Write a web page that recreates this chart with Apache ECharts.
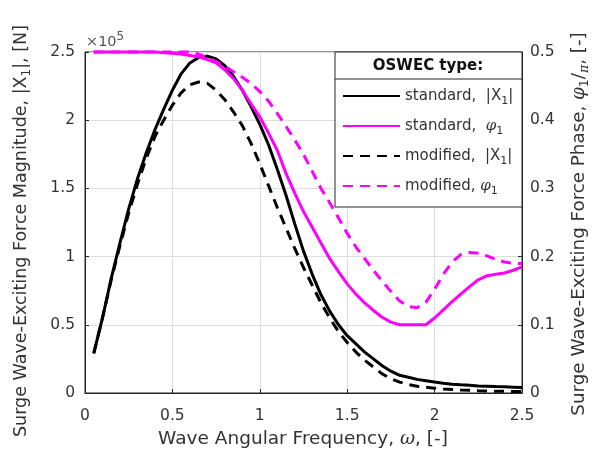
<!DOCTYPE html>
<html>
<head>
<meta charset="utf-8">
<script src="https://cdn.jsdelivr.net/npm/echarts@6/dist/echarts.min.js"></script>
<style>
  html, body { margin: 0; padding: 0; background: #fff; }
  #chart { width: 595px; height: 450px; }
</style>
</head>
<body>
<div id="chart"></div>
<script>
// Wave angular frequency samples, ω [-]
const omega = [0.05, 0.10, 0.15, 0.20, 0.25, 0.30, 0.35, 0.40, 0.45, 0.50,
  0.55, 0.60, 0.65, 0.70, 0.75, 0.80, 0.85, 0.90, 0.95, 1.00,
  1.05, 1.10, 1.15, 1.20, 1.25, 1.30, 1.35, 1.40, 1.45, 1.50,
  1.55, 1.60, 1.65, 1.70, 1.75, 1.80, 1.85, 1.90, 1.95, 2.00,
  2.05, 2.10, 2.15, 2.20, 2.25, 2.30, 2.35, 2.40, 2.45, 2.50];

// Force magnitude |X1| in units of 1e5 N
const magStandard = [0.29, 0.55, 0.84, 1.10, 1.35, 1.57, 1.76, 1.93, 2.08, 2.22,
  2.34, 2.42, 2.46, 2.47, 2.45, 2.40, 2.32, 2.22, 2.10, 1.97,
  1.82, 1.64, 1.45, 1.24, 1.04, 0.87, 0.72, 0.60, 0.50, 0.42,
  0.36, 0.30, 0.25, 0.20, 0.16, 0.13, 0.115, 0.10, 0.09, 0.08,
  0.072, 0.065, 0.06, 0.056, 0.052, 0.05, 0.047, 0.045, 0.043, 0.04];

const magModified = [0.29, 0.55, 0.83, 1.08, 1.32, 1.53, 1.72, 1.88, 2.00, 2.11,
  2.20, 2.26, 2.28, 2.27, 2.22, 2.15, 2.06, 1.96, 1.83, 1.68,
  1.52, 1.36, 1.21, 1.06, 0.92, 0.79, 0.66, 0.55, 0.45, 0.37,
  0.30, 0.24, 0.19, 0.14, 0.105, 0.08, 0.062, 0.05, 0.042, 0.035,
  0.03, 0.026, 0.022, 0.02, 0.017, 0.015, 0.013, 0.012, 0.011, 0.01];

// Force phase φ1/π [-]
const phaseStandard = [0.5, 0.5, 0.5, 0.5, 0.5, 0.5, 0.5, 0.5, 0.499, 0.498,
  0.497, 0.495, 0.493, 0.489, 0.484, 0.474, 0.461, 0.444, 0.424, 0.405,
  0.381, 0.356, 0.322, 0.293, 0.266, 0.243, 0.22, 0.197, 0.178, 0.16,
  0.145, 0.132, 0.121, 0.111, 0.104, 0.10, 0.10, 0.10, 0.10, 0.11,
  0.122, 0.134, 0.145, 0.156, 0.166, 0.172, 0.174, 0.176, 0.18, 0.185];

const phaseModified = [0.5, 0.5, 0.5, 0.5, 0.5, 0.5, 0.5, 0.5, 0.5, 0.5,
  0.5, 0.5, 0.497, 0.492, 0.486, 0.479, 0.471, 0.463, 0.454, 0.442,
  0.428, 0.410, 0.391, 0.371, 0.35, 0.325, 0.30, 0.279, 0.257, 0.234,
  0.214, 0.197, 0.18, 0.164, 0.149, 0.135, 0.127, 0.125, 0.133, 0.152,
  0.174, 0.192, 0.203, 0.206, 0.205, 0.201, 0.196, 0.192, 0.19, 0.19];

const xTicks = ['0', '0.5', '1', '1.5', '2', '2.5'];
const seriesNames = ['standard, |X1|', 'standard, φ1', 'modified, |X1|', 'modified, φ1'];
const legendLabels = {
  'standard, |X1|': 'standard,  |X{sub|1}|',
  'standard, φ1': 'standard,  {phi|φ}{sub|1}',
  'modified, |X1|': 'modified,  |X{sub|1}|',
  'modified, φ1': 'modified, {phi|φ}{sub|1}'
};

const FONT = '"DejaVu Sans", "Liberation Sans", Arial, sans-serif';
const GREEK = '"DejaVu Serif", serif';
const TXT = '#333333';
const GRID = { left: 85, right: 73, top: 52, bottom: 57 };

function pairs(xs, ys) { return xs.map((x, i) => [x, ys[i]]); }

const legendRich = {
  sub: { fontSize: 11, fontFamily: FONT, color: TXT, lineHeight: 10, verticalAlign: 'bottom' },
  phi: { fontSize: 15, fontFamily: GREEK, fontStyle: 'italic', color: TXT, lineHeight: 22 }
};

const chart = echarts.init(document.getElementById('chart'), null, { renderer: 'canvas' });

const option = {
  animation: false,
  backgroundColor: '#fff',
  grid: { left: GRID.left, right: GRID.right, top: GRID.top, bottom: GRID.bottom,
          show: true, borderColor: '#262626', borderWidth: 1, backgroundColor: 'transparent' },
  xAxis: {
    type: 'value', min: 0, max: 2.5, interval: 0.5,
    axisLine: { show: true, lineStyle: { color: '#262626', width: 1 } },
    axisTick: { show: true, inside: true, length: 4, lineStyle: { color: '#262626' } },
    axisLabel: { color: TXT, fontSize: 15.5, fontFamily: FONT, margin: 15,
                 formatter: (v) => xTicks[Math.round(v / 0.5)] },
    splitLine: { show: true, lineStyle: { color: '#dedede', width: 1 } }
  },
  yAxis: [{
    type: 'value', min: 0, max: 2.5, interval: 0.5, position: 'left',
    axisLine: { show: true, lineStyle: { color: '#262626', width: 1 } },
    axisTick: { show: true, inside: true, length: 4, lineStyle: { color: '#262626' } },
    axisLabel: { color: TXT, fontSize: 15.5, fontFamily: FONT, margin: 10,
                 formatter: (v) => String(Math.round(v * 10) / 10) },
    splitLine: { show: true, lineStyle: { color: '#dedede', width: 1 } }
  }, {
    type: 'value', min: 0, max: 0.5, interval: 0.1, position: 'right',
    axisLine: { show: true, lineStyle: { color: '#262626', width: 1 } },
    axisTick: { show: true, inside: true, length: 4, lineStyle: { color: '#262626' } },
    axisLabel: { color: TXT, fontSize: 15.5, fontFamily: FONT, margin: 8,
                 formatter: (v) => String(Math.round(v * 10) / 10) },
    splitLine: { show: false }
  }],
  legend: {
    show: true, orient: 'vertical', left: 342, top: 85, z: 20, padding: 0,
    itemWidth: 57, itemHeight: 12, itemGap: 8,
    itemStyle: { opacity: 0 },
    data: seriesNames,
    formatter: (name) => legendLabels[name],
    textStyle: { color: TXT, fontSize: 15, fontFamily: FONT, lineHeight: 22, rich: legendRich }
  },
  series: [
    { name: seriesNames[0], type: 'line', yAxisIndex: 0, data: pairs(omega, magStandard),
      symbol: 'none', clip: false, lineStyle: { color: '#000', width: 3, type: 'solid' }, itemStyle: { color: '#000' }, z: 3 },
    { name: seriesNames[1], type: 'line', yAxisIndex: 1, data: pairs(omega, phaseStandard),
      symbol: 'none', clip: false, lineStyle: { color: '#ff00ff', width: 3, type: 'solid' }, itemStyle: { color: '#ff00ff' }, z: 4 },
    { name: seriesNames[2], type: 'line', yAxisIndex: 0, data: pairs(omega, magModified),
      symbol: 'none', clip: false, lineStyle: { color: '#000', width: 3, type: [10, 7] }, itemStyle: { color: '#000' }, z: 3 },
    { name: seriesNames[3], type: 'line', yAxisIndex: 1, data: pairs(omega, phaseModified),
      symbol: 'none', clip: false, lineStyle: { color: '#ff00ff', width: 3, type: [10, 7] }, itemStyle: { color: '#ff00ff' }, z: 4 }
  ],
  graphic: [
    // legend frame with its title row
    { type: 'rect', z: 10, shape: { x: 335, y: 52, width: 187, height: 155 },
      style: { fill: '#fff', stroke: '#262626', lineWidth: 1 } },
    { type: 'line', z: 11, shape: { x1: 335, y1: 79, x2: 522, y2: 79 },
      style: { stroke: '#262626', lineWidth: 1 } },
    { type: 'text', z: 11, x: 428, y: 66,
      style: { text: 'OSWEC type:', font: 'bold 15px ' + FONT, fill: '#111', align: 'center', verticalAlign: 'middle' } },
    // exponent of the left axis
    { type: 'text', z: 11, x: 86, y: 42,
      style: { text: '×10{sup|5}', fill: '#555', font: '14.5px ' + FONT, verticalAlign: 'middle',
               lineHeight: 22, rich: { sup: { fontSize: 12, fontFamily: FONT, fill: '#555', lineHeight: 10, verticalAlign: 'top' } } } },
    // axis titles
    { type: 'text', z: 11, x: 21, y: 231, rotation: Math.PI / 2,
      style: { text: 'Surge Wave-Exciting Force Magnitude, |X{sub|1}|, [N]', fill: TXT, font: '17.5px ' + FONT,
               align: 'center', verticalAlign: 'middle', lineHeight: 24,
               rich: { sub: { fontSize: 12, fontFamily: FONT, fill: TXT, lineHeight: 10, verticalAlign: 'bottom' } } } },
    { type: 'text', z: 11, x: 579, y: 224, rotation: Math.PI / 2,
      style: { text: 'Surge Wave-Exciting Force Phase, {phi|φ}{sub|1}/{pi|π}, [-]', fill: TXT, font: '18.3px ' + FONT,
               align: 'center', verticalAlign: 'middle', lineHeight: 24,
               rich: { sub: { fontSize: 12.5, fontFamily: FONT, fill: TXT, lineHeight: 10, verticalAlign: 'bottom' },
                       phi: { fontSize: 18.3, fontFamily: GREEK, fontStyle: 'italic', fill: TXT, lineHeight: 24 },
                       pi: { fontSize: 12.5, fontFamily: GREEK, fontStyle: 'italic', fill: TXT, lineHeight: 10, verticalAlign: 'bottom' } } } },
    { type: 'text', z: 11, x: 303, y: 439,
      style: { text: 'Wave Angular Frequency, {w|ω}, [-]', fill: TXT, font: '18.5px ' + FONT,
               align: 'center', verticalAlign: 'middle', lineHeight: 24,
               rich: { w: { fontSize: 18.5, fontFamily: GREEK, fontStyle: 'italic', fill: TXT, lineHeight: 24 } } } }
  ]
};

chart.setOption(option);
</script>
</body>
</html>
